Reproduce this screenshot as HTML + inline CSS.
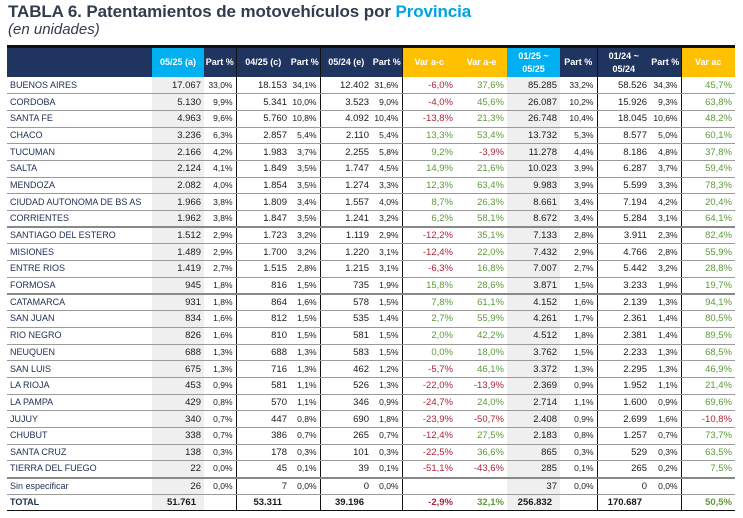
<!DOCTYPE html>
<html><head><meta charset="utf-8"><style>
body{margin:0;width:743px;height:518px;background:#fff;overflow:hidden;font-family:"Liberation Sans",sans-serif;}
.t1{position:absolute;left:8px;top:2px;font-size:17px;font-weight:bold;color:#333c4e;letter-spacing:-0.1px}
.t1 span{color:#00a3e0}
.t2{position:absolute;left:8px;top:21px;font-size:15px;font-style:italic;color:#333c4e}
table{position:absolute;left:7px;top:45px;border-collapse:collapse;table-layout:fixed;width:728px;font-size:9.5px;color:#1a1a1a}
th{background:#1f3560;color:#fff;font-weight:bold;height:29px;font-size:9px;padding:0;text-align:center;line-height:13px;white-space:nowrap;overflow:hidden}
th.c{background:#00b0f0}th.y{background:#ffc000}
tr.h{border-top:3px solid #111}
td{height:15.7px;line-height:15px;padding:0 3px 0 0;text-align:right;border-bottom:1px solid #9a9a9a;white-space:nowrap;overflow:hidden;vertical-align:middle;box-sizing:border-box}
tr{height:16.7px}
td:first-child{text-align:left;padding-left:3px;color:#1f2d50;font-size:9px}
td.p{font-size:8.5px}
td.g{background:#efefef}
.r{color:#b0233b}.gr{color:#5c9a3a}
.bl{border-left:1.5px solid #111}
tr.k td{border-bottom:2.5px solid #888}
tr.tot td{font-weight:bold;border-bottom:1.5px solid #111}
</style></head><body>
<div class="t1">TABLA 6. Patentamientos de motovehículos por <span>Provincia</span></div>
<div class="t2">(en unidades)</div>
<table>
<colgroup><col style="width:145px"><col style="width:52px"><col style="width:32px"><col style="width:54px"><col style="width:30px"><col style="width:52px"><col style="width:30px"><col style="width:54px"><col style="width:51px"><col style="width:53px"><col style="width:37px"><col style="width:53px"><col style="width:31px"><col style="width:54px"></colgroup>
<tr class="h"><th></th><th class="c">05/25 (a)</th><th>Part %</th><th class="bl">04/25 (c)</th><th>Part %</th><th class="bl">05/24 (e)</th><th>Part %</th><th class="y bl">Var a-c</th><th class="y">Var a-e</th><th class="c">01/25 ~<br>05/25</th><th>Part %</th><th class="bl">01/24 ~<br>05/24</th><th>Part %</th><th class="y bl">Var ac</th></tr>
<tbody id="b"></tbody>
</table>
<script>
var d=[
["BUENOS AIRES","17.067","33,0%","18.153","34,1%","12.402","31,6%","-6,0%","37,6%","85.285","33,2%","58.526","34,3%","45,7%"],
["CORDOBA","5.130","9,9%","5.341","10,0%","3.523","9,0%","-4,0%","45,6%","26.087","10,2%","15.926","9,3%","63,8%"],
["SANTA FE","4.963","9,6%","5.760","10,8%","4.092","10,4%","-13,8%","21,3%","26.748","10,4%","18.045","10,6%","48,2%"],
["CHACO","3.236","6,3%","2.857","5,4%","2.110","5,4%","13,3%","53,4%","13.732","5,3%","8.577","5,0%","60,1%"],
["TUCUMAN","2.166","4,2%","1.983","3,7%","2.255","5,8%","9,2%","-3,9%","11.278","4,4%","8.186","4,8%","37,8%"],
["SALTA","2.124","4,1%","1.849","3,5%","1.747","4,5%","14,9%","21,6%","10.023","3,9%","6.287","3,7%","59,4%"],
["MENDOZA","2.082","4,0%","1.854","3,5%","1.274","3,3%","12,3%","63,4%","9.983","3,9%","5.599","3,3%","78,3%"],
["CIUDAD AUTONOMA DE BS AS","1.966","3,8%","1.809","3,4%","1.557","4,0%","8,7%","26,3%","8.661","3,4%","7.194","4,2%","20,4%"],
["CORRIENTES","1.962","3,8%","1.847","3,5%","1.241","3,2%","6,2%","58,1%","8.672","3,4%","5.284","3,1%","64,1%"],
["SANTIAGO DEL ESTERO","1.512","2,9%","1.723","3,2%","1.119","2,9%","-12,2%","35,1%","7.133","2,8%","3.911","2,3%","82,4%"],
["MISIONES","1.489","2,9%","1.700","3,2%","1.220","3,1%","-12,4%","22,0%","7.432","2,9%","4.766","2,8%","55,9%"],
["ENTRE RIOS","1.419","2,7%","1.515","2,8%","1.215","3,1%","-6,3%","16,8%","7.007","2,7%","5.442","3,2%","28,8%"],
["FORMOSA","945","1,8%","816","1,5%","735","1,9%","15,8%","28,6%","3.871","1,5%","3.233","1,9%","19,7%"],
["CATAMARCA","931","1,8%","864","1,6%","578","1,5%","7,8%","61,1%","4.152","1,6%","2.139","1,3%","94,1%"],
["SAN JUAN","834","1,6%","812","1,5%","535","1,4%","2,7%","55,9%","4.261","1,7%","2.361","1,4%","80,5%"],
["RIO NEGRO","826","1,6%","810","1,5%","581","1,5%","2,0%","42,2%","4.512","1,8%","2.381","1,4%","89,5%"],
["NEUQUEN","688","1,3%","688","1,3%","583","1,5%","0,0%","18,0%","3.762","1,5%","2.233","1,3%","68,5%"],
["SAN LUIS","675","1,3%","716","1,3%","462","1,2%","-5,7%","46,1%","3.372","1,3%","2.295","1,3%","46,9%"],
["LA RIOJA","453","0,9%","581","1,1%","526","1,3%","-22,0%","-13,9%","2.369","0,9%","1.952","1,1%","21,4%"],
["LA PAMPA","429","0,8%","570","1,1%","346","0,9%","-24,7%","24,0%","2.714","1,1%","1.600","0,9%","69,6%"],
["JUJUY","340","0,7%","447","0,8%","690","1,8%","-23,9%","-50,7%","2.408","0,9%","2.699","1,6%","-10,8%"],
["CHUBUT","338","0,7%","386","0,7%","265","0,7%","-12,4%","27,5%","2.183","0,8%","1.257","0,7%","73,7%"],
["SANTA CRUZ","138","0,3%","178","0,3%","101","0,3%","-22,5%","36,6%","865","0,3%","529","0,3%","63,5%"],
["TIERRA DEL FUEGO","22","0,0%","45","0,1%","39","0,1%","-51,1%","-43,6%","285","0,1%","265","0,2%","7,5%"],
["Sin especificar","26","0,0%","7","0,0%","0","0,0%","","","37","0,0%","0","0,0%",""],
["TOTAL","51.761","","53.311","","39.196","","-2,9%","32,1%","256.832","","170.687","","50,5%"]];
var h="";d.forEach(function(r,i){var c=i==25?"tot":([8,12,23].indexOf(i)>=0?"k":"");h+='<tr class="'+c+'">';
r.forEach(function(v,j){var cl=[];if(j==1||j==9)cl.push("g");if([2,4,6,10,12].indexOf(j)>=0)cl.push("p");if([3,5,7,11,13].indexOf(j)>=0)cl.push("bl");
if(j==7||j==8||j==13){cl.push(v.charAt(0)=="-"?"r":"gr");}
var st=(i==25&&[1,3,5,9,11].indexOf(j)>=0)?' style="padding-right:8px"':'';
h+='<td class="'+cl.join(" ")+'"'+st+'>'+v+'</td>';});h+='</tr>';});
document.getElementById("b").innerHTML=h;
</script>
</body></html>
